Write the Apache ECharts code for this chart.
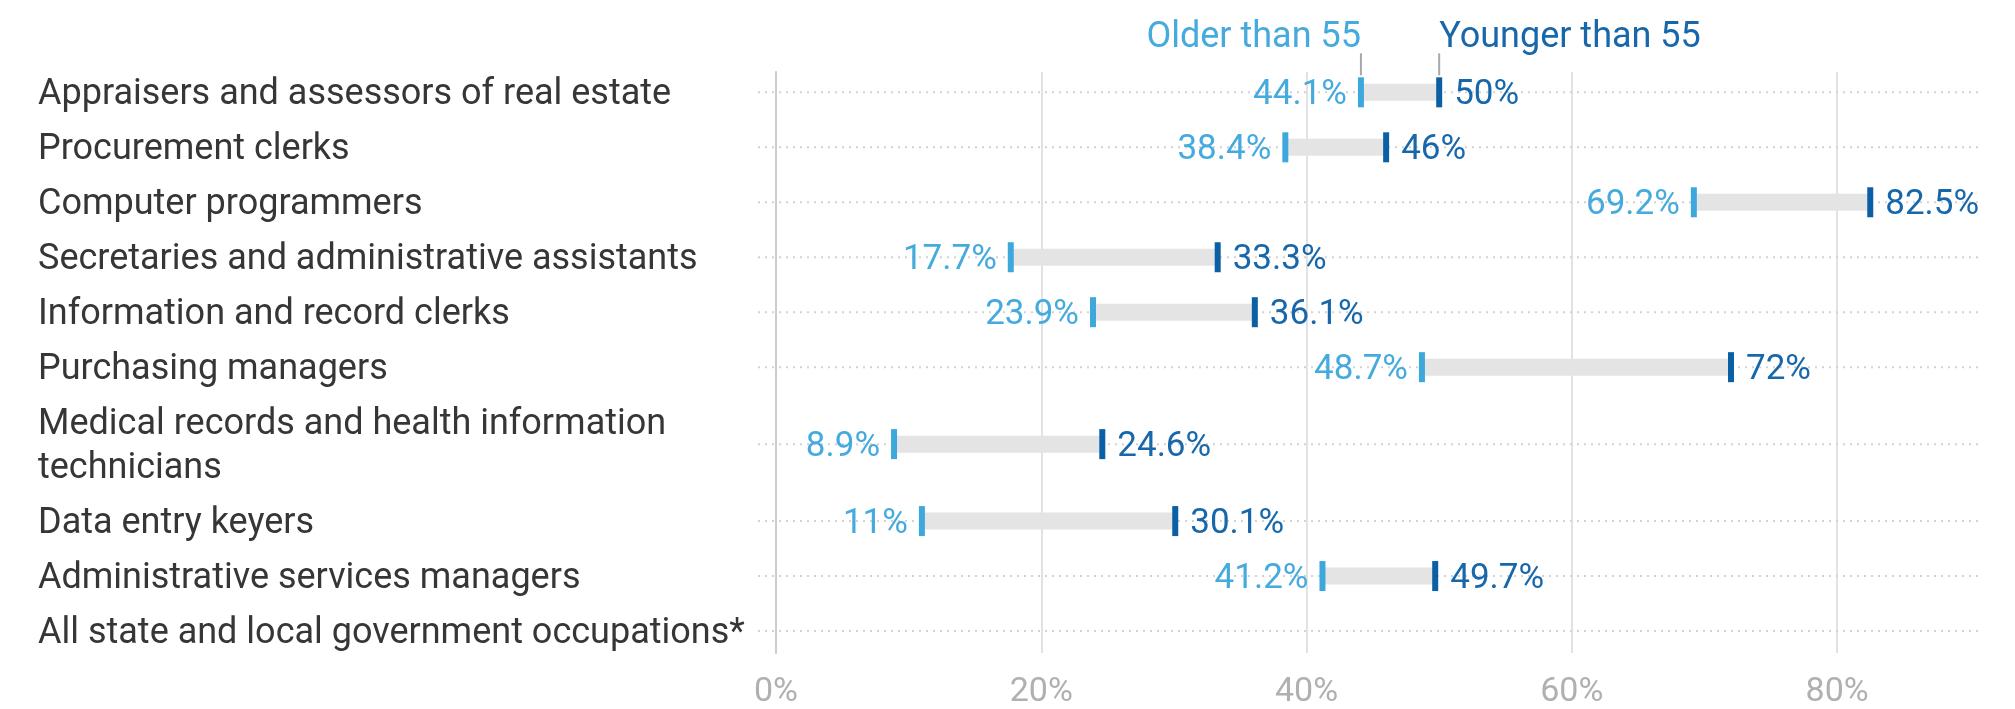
<!DOCTYPE html>
<html>
<head>
<meta charset="utf-8">
<script src="https://cdn.jsdelivr.net/npm/echarts@6/dist/echarts.min.js"></script>
<style>
  html, body { margin: 0; padding: 0; background: #fff; }
  #chart { width: 2015px; height: 709px; }
</style>
</head>
<body>
<div id="chart"></div>
<script>
// occupations, top to bottom
var categories = [
  'Appraisers and assessors of real estate',
  'Procurement clerks',
  'Computer programmers',
  'Secretaries and administrative assistants',
  'Information and record clerks',
  'Purchasing managers',
  'Medical records and health information\ntechnicians',
  'Data entry keyers',
  'Administrative services managers',
  'All state and local government occupations*'
]
// share (%) older than 55 / younger than 55
var olderThan55 = [44.1, 38.4, 69.2, 17.7, 23.9, 48.7, 8.9, 11, 41.2, null]
var youngerThan55 = [50, 46, 82.5, 33.3, 36.1, 72, 24.6, 30.1, 49.7, null]
var seriesNames = ['Older than 55', 'Younger than 55']
var xTickStep = 20

var COLOR_OLD = '#3ea7dc'
var COLOR_YOUNG = '#0b5fa5'
var TEXT_OLD = '#45aadd'
var TEXT_YOUNG = '#1767aa'
var FONT = 'Roboto, "Noto Sans", sans-serif'

// rows with a wrapped label get a taller slot
var rowPos = []
var total = 0
categories.forEach(function (name) {
  var slot = 1 + 0.8 * (name.split('\n').length - 1)
  rowPos.push(total + slot / 2)
  total += slot
})

var chart = echarts.init(document.getElementById('chart'))

function renderRow (params, api) {
  var i = params.dataIndex
  var cs = params.coordSys
  var y = api.coord([0, api.value(2)])[1]
  var children = []

  // dotted row guide
  children.push({
    type: 'line',
    shape: { x1: cs.x - 18, y1: y, x2: cs.x + cs.width, y2: y },
    style: { stroke: '#d2d2d2', lineWidth: 2, lineDash: [2, 5] },
    silent: true
  })
  // category label
  children.push({
    type: 'text',
    style: {
      text: categories[i],
      x: 38,
      y: y + 3,
      verticalAlign: 'middle',
      align: 'left',
      font: '36px ' + FONT,
      lineHeight: 44,
      fill: '#363636'
    }
  })

  if (olderThan55[i] == null) {
    return { type: 'group', children: children }
  }

  var x1 = api.coord([olderThan55[i], api.value(2)])[0]
  var x2 = api.coord([youngerThan55[i], api.value(2)])[0]

  children.push({
    type: 'rect',
    shape: { x: x1, y: y - 8.5, width: x2 - x1, height: 17 },
    style: { fill: '#e4e4e4' }
  })
  children.push({
    type: 'rect',
    shape: { x: x1 - 3, y: y - 15, width: 6, height: 30 },
    style: { fill: COLOR_OLD }
  })
  children.push({
    type: 'rect',
    shape: { x: x2 - 3, y: y - 15, width: 6, height: 30 },
    style: { fill: COLOR_YOUNG }
  })
  children.push({
    type: 'text',
    style: {
      text: olderThan55[i] + '%',
      x: x1 - 14,
      y: y + 3,
      align: 'right',
      verticalAlign: 'middle',
      font: '35px ' + FONT,
      fill: TEXT_OLD
    }
  })
  children.push({
    type: 'text',
    style: {
      text: youngerThan55[i] + '%',
      x: x2 + 15,
      y: y + 3,
      align: 'left',
      verticalAlign: 'middle',
      font: '35px ' + FONT,
      fill: TEXT_YOUNG
    }
  })

  // series names above first row
  if (i === 0) {
    children.push({
      type: 'line',
      shape: { x1: x1, y1: y - 39, x2: x1, y2: y - 17 },
      style: { stroke: '#a8a8a8', lineWidth: 2 }
    })
    children.push({
      type: 'line',
      shape: { x1: x2, y1: y - 39, x2: x2, y2: y - 17 },
      style: { stroke: '#a8a8a8', lineWidth: 2 }
    })
    children.push({
      type: 'text',
      style: {
        text: seriesNames[0],
        x: x1,
        y: y - 54,
        align: 'right',
        verticalAlign: 'middle',
        font: '36px ' + FONT,
        fill: TEXT_OLD
      }
    })
    children.push({
      type: 'text',
      style: {
        text: seriesNames[1],
        x: x2,
        y: y - 54,
        align: 'left',
        verticalAlign: 'middle',
        font: '36px ' + FONT,
        fill: TEXT_YOUNG
      }
    })
  }
  return { type: 'group', children: children }
}

var data = categories.map(function (c, i) {
  return [olderThan55[i] == null ? '-' : olderThan55[i], youngerThan55[i] == null ? '-' : youngerThan55[i], rowPos[i]]
})

var option = {
  animation: false,
  grid: {
    left: 776,
    right: 32,
    top: 72,
    bottom: 54
  },
  xAxis: {
    type: 'value',
    min: 0,
    max: 91,
    interval: xTickStep,
    axisLine: { show: false },
    axisTick: { show: false },
    axisLabel: {
      showMaxLabel: false,
      margin: 22,
      color: '#b0b0b0',
      fontSize: 34,
      fontFamily: FONT,
      formatter: function (v) {
        return v % xTickStep === 0 ? v + '%' : ''
      }
    },
    splitLine: {
      show: true,
      showMaxLine: false,
      lineStyle: { color: '#e2e2e2', width: 2 }
    }
  },
  yAxis: {
    type: 'value',
    inverse: true,
    min: 0.13,
    max: total - 0.1,
    axisLine: { show: true, lineStyle: { color: '#cccccc', width: 2 } },
    axisTick: { show: false },
    axisLabel: { show: false },
    splitLine: { show: false }
  },
  series: [
    {
      type: 'custom',
      renderItem: renderRow,
      encode: { x: [0, 1], y: 2 },
      data: data
    }
  ]
}

chart.setOption(option)
</script>
</body>
</html>
